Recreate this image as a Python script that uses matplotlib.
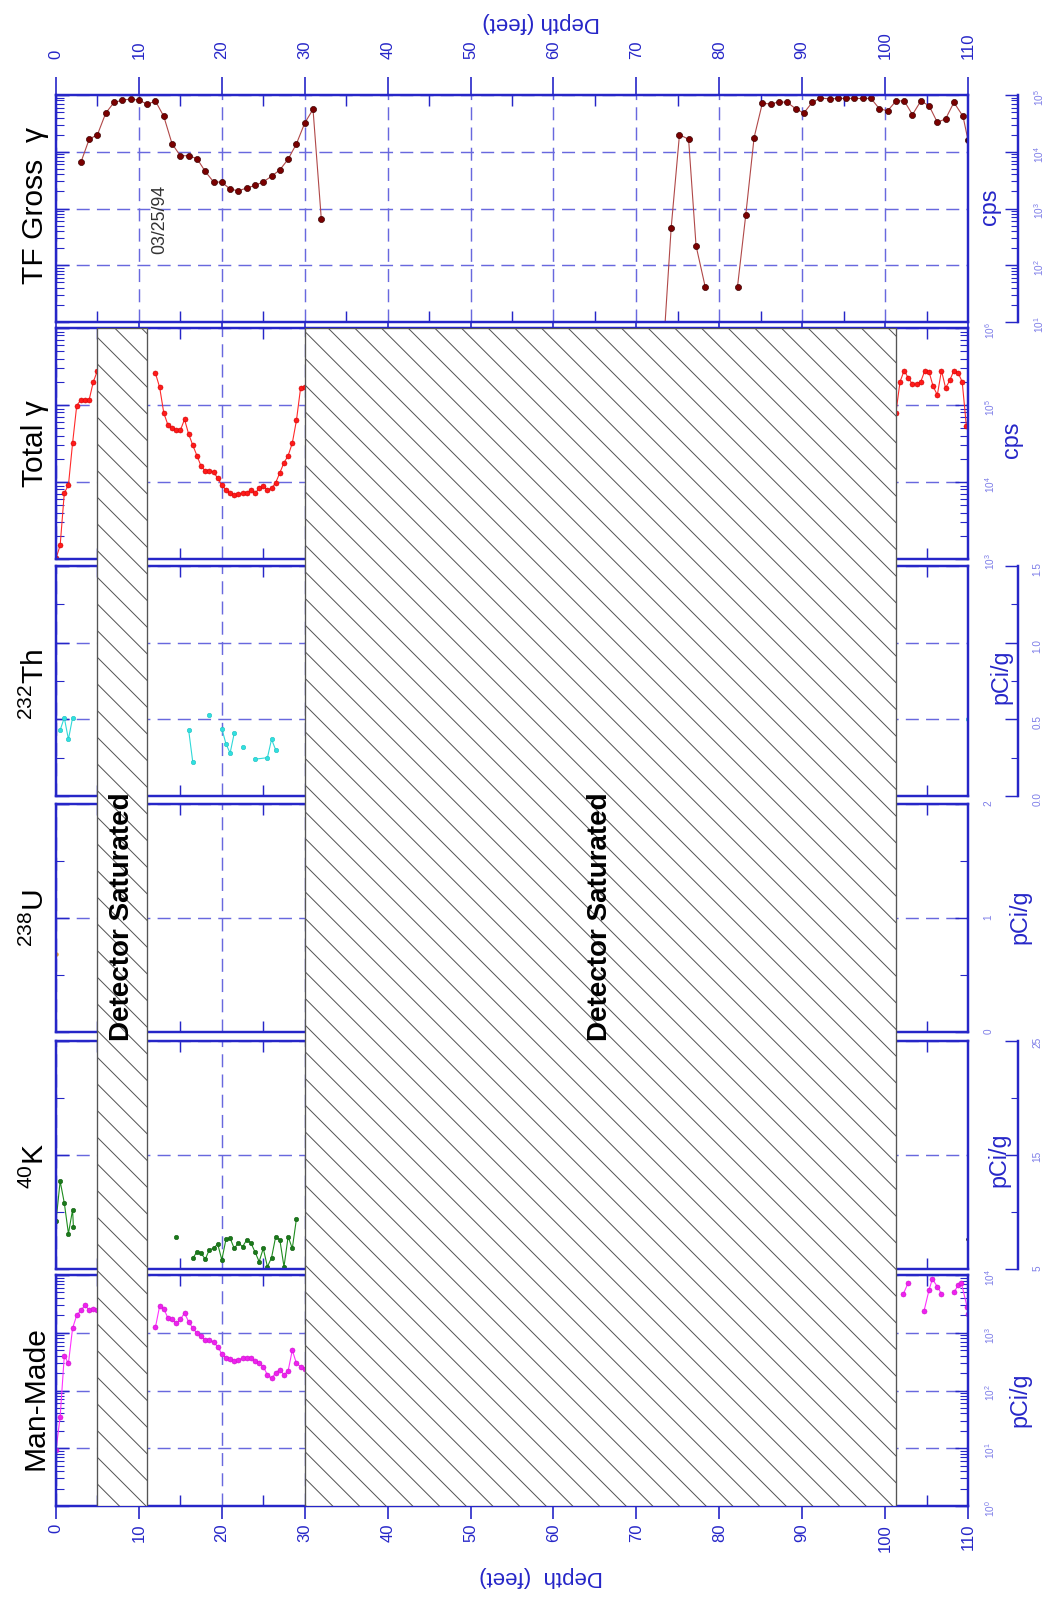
import matplotlib
matplotlib.use('Agg')

import numpy as np
import matplotlib.pyplot as plt
from matplotlib.patches import Rectangle
from matplotlib.ticker import (FixedLocator, LogLocator, NullFormatter,
                               FormatStrFormatter)

nan = np.nan

# ---- data (depth in feet) ----
# TF gross gamma (cps)
tf_depth = [3, 4, 5, 6, 7, 8, 9, 10, 11, 12, 13, 14, 15, 16, 17, 18, 19, 20, 21, 22,
            23, 24, 25, 26, 27, 28, 29, 30, 31, 32, nan,
            73.2, 74.2, 75.2, 76.3, 77.2, 78.3, nan,
            82.2, 83.2, 84.2, 85.2, 86.2, 87.2, 88.2, 89.2, 90.2, 91.2, 92.2, 93.3, 94.3,
            95.3, 96.3, 97.3, 98.3, 99.3, 100.3, 101.3, 102.3, 103.3, 104.3, 105.3, 106.3,
            107.3, 108.3, 109.4, 110.0]
tf_cps = [6500, 16600, 20000, 48000, 74000, 81000, 85000, 81000, 69000, 78000, 42000,
          13800, 8500, 8500, 7600, 4500, 2950, 2900, 2200, 2050, 2300, 2550, 2950, 3700,
          4800, 7400, 13800, 32000, 56000, 650, nan,
          2.4, 460, 20000, 16600, 220, 42, nan,
          42, 780, 17800, 72000, 69000, 76000, 74000, 57500, 48000, 74000, 89000, 85000,
          87000, 87000, 87000, 87000, 87000, 57500, 52500, 78000, 79000, 45000, 78000,
          65000, 33000, 38000, 74000, 42000, 16000]

# Total gamma (cps)
tot_depth = [0, 0.5, 1, 1.5, 2, 2.5, 3, 3.5, 4, 4.5, 5, nan,
             12, 12.5, 13, 13.5, 14, 14.5, 15, 15.5, 16, 16.5, 17, 17.5, 18, 18.5, 19,
             19.5, 20, 20.5, 21, 21.5, 22, 22.5, 23, 23.5, 24, 24.5, 25, 25.5, 26, 26.5,
             27, 27.5, 28, 28.5, 29, 29.5, 30, nan,
             101.3, 101.8, 102.3, 102.8, 103.3, 103.8, 104.3, 104.8, 105.3, 105.8, 106.3,
             106.8, 107.3, 107.8, 108.3, 108.8, 109.3, 109.8]
tot_cps = [1020, 1500, 7200, 9100, 32000, 98000, 117000, 117000, 117000, 200000, 280000, nan,
           257000, 170000, 79000, 55000, 50000, 47000, 47000, 65000, 42000, 30000, 22000,
           16000, 14000, 14000, 13500, 11200, 9100, 7900, 7100, 6800, 6900, 7200, 7200,
           7800, 7100, 8300, 8900, 7900, 8300, 9800, 13200, 17800, 22000, 32000, 63000,
           166000, 170000, nan,
           79000, 200000, 280000, 224000, 186000, 186000, 200000, 280000, 270000, 174000,
           135000, 280000, 166000, 209000, 280000, 263000, 200000, 54000]

# Th-232 (pCi/g)
th_depth = [0.5, 1.0, 1.5, 2.0, nan, 16.0, 16.5, nan, 18.5, nan, 20.0, 20.5, 21.0, 21.5,
            nan, 22.5, nan, 24.0, 25.5, 26.0, 26.5, nan, 110.0]
th_pci = [0.43, 0.51, 0.37, 0.51, nan, 0.43, 0.22, nan, 0.53, nan, 0.44, 0.34, 0.28, 0.41,
          nan, 0.32, nan, 0.24, 0.25, 0.37, 0.30, nan, 0.50]

# U-238 (pCi/g)
u_depth = [0.0]
u_pci = [0.68]

# K-40 (pCi/g)
k_depth = [0, 0.5, 1.0, 1.5, 2.0, 2.1, nan, 14.5, nan,
           16.5, 17, 17.5, 18, 18.5, 19, 19.5, 20, 20.5, 21, 21.5, 22, 22.5, 23, 23.5,
           24, 24.5, 25, 25.5, 26, 26.5, 27, 27.5, 28, 28.5, 29]
k_pci = [9.2, 12.7, 10.8, 8.1, 10.2, 8.7, nan, 7.85, nan,
         5.95, 6.5, 6.4, 5.85, 6.7, 6.8, 7.2, 5.8, 7.6, 7.7, 6.8, 7.3, 6.95, 7.55, 7.3,
         6.5, 5.65, 6.8, 5.2, 6.0, 7.85, 7.55, 5.2, 7.85, 6.8, 9.4]
k_end_depth = [110.0]
k_end_pci = [7.6]

# Man-made (pCi/g)
mm_depth = [0, 0.5, 1, 1.5, 2, 2.5, 3, 3.5, 4, 4.5, 5, nan,
            12, 12.5, 13, 13.5, 14, 14.5, 15, 15.5, 16, 16.5, 17, 17.5, 18, 18.5, 19,
            19.5, 20, 20.5, 21, 21.5, 22, 22.5, 23, 23.5, 24, 24.5, 25, 25.5, 26, 26.5,
            27, 27.5, 28, 28.5, 29, 29.5, 30, nan,
            102.2, 102.8, nan, 104.7, 105.3, 105.7, 106.3, 106.8, nan,
            108.3, 108.8, 109.2, 109.9, 110.0]
mm_pci = [9.3, 35, 400, 295, 1200, 2000, 2450, 3000, 2450, 2600, 2450, nan,
          1260, 2900, 2600, 1800, 1700, 1450, 1700, 2200, 1550, 1200, 980, 870, 740, 740,
          680, 575, 430, 370, 350, 330, 340, 360, 360, 370, 320, 300, 260, 186, 162, 204,
          230, 186, 220, 500, 295, 260, 234, nan,
          4700, 7400, nan, 2400, 5500, 8500, 6300, 4700, nan,
          5000, 6600, 7200, 2800, 2100]

# detector saturated intervals (start, end)
saturated = [(5, 11), (30, 101.3)]

depth_major = [0, 10, 20, 30, 40, 50, 60, 70, 80, 90, 100, 110]
depth_minor = [5, 15, 25, 35, 45, 55, 65, 75, 85, 95, 105]

# ---- layout ----
W, H, DPI = 1063, 1600, 80
plt.rcParams['font.family'] = ['Liberation Sans', 'DejaVu Sans']
plt.rcParams['mathtext.fontset'] = 'custom'
plt.rcParams['mathtext.rm'] = 'Liberation Sans'
plt.rcParams['mathtext.it'] = 'Liberation Sans:italic'
plt.rcParams['hatch.linewidth'] = 0.9

BLUE = '#2626c8'
GRID = '#6868de'
LABEL = '#7c7ce8'
X0, X1 = 56, 968

fig = plt.figure(figsize=(W / DPI, H / DPI), dpi=DPI)


def box(top, bot):
    return [X0 / W, 1 - bot / H, (X1 - X0) / W, (bot - top) / H]


def panel(top, bot, scale, lim, major, minor, right=False):
    ax = fig.add_axes(box(top, bot))
    ax.set_xlim(0, 110)
    ax.set_yscale(scale)
    ax.set_ylim(*lim)
    for s in ax.spines.values():
        s.set_color(BLUE)
        s.set_linewidth(2.2)
    ax.xaxis.set_major_locator(FixedLocator(depth_major))
    ax.xaxis.set_minor_locator(FixedLocator(depth_minor))
    ax.xaxis.set_major_formatter(FormatStrFormatter('%d'))
    ax.tick_params(axis='x', which='major', length=0, labelbottom=False)
    ax.tick_params(axis='x', which='minor', top=True, bottom=True, direction='in',
                   length=10, width=1.3, color=BLUE)
    ax.yaxis.set_major_locator(major)
    ax.yaxis.set_minor_locator(minor)
    ax.yaxis.set_minor_formatter(NullFormatter())
    ax.tick_params(axis='y', which='both', direction='in', left=True, right=right,
                   labelleft=False, labelright=right, color=BLUE, labelcolor=LABEL,
                   labelsize=9, labelrotation=90, pad=14)
    ax.tick_params(axis='y', which='major', length=12, width=1.3)
    ax.tick_params(axis='y', which='minor', length=7, width=1.0)
    ax.grid(True, which='major', axis='both', color=GRID,
            linestyle=(0, (9, 5)), linewidth=1.3)
    return ax


def outer_axis(ax, major, minor, fmt=None):
    tw = ax.twinx()
    tw.set_yscale(ax.get_yscale())
    tw.set_ylim(ax.get_ylim())
    for s in ('top', 'bottom', 'left'):
        tw.spines[s].set_visible(False)
    tw.spines['right'].set_position(('outward', 50 * 72 / DPI))
    tw.spines['right'].set_color(BLUE)
    tw.spines['right'].set_linewidth(2.2)
    tw.yaxis.set_major_locator(major)
    tw.yaxis.set_minor_locator(minor)
    if fmt is not None:
        tw.yaxis.set_major_formatter(fmt)
    tw.yaxis.set_minor_formatter(NullFormatter())
    tw.tick_params(axis='y', which='both', direction='in', color=BLUE, labelcolor=LABEL,
                   labelsize=9, labelrotation=90, pad=13)
    tw.tick_params(axis='y', which='major', length=12, width=1.3)
    tw.tick_params(axis='y', which='minor', length=6, width=1.0)
    return tw


def logloc():
    return LogLocator(base=10), LogLocator(base=10, subs=np.arange(2, 10))


# TF Gross gamma
ax_tf = panel(95, 322, 'log', (10, 1e5), *logloc())
ax_tf.tick_params(axis='x', which='major', top=True, labeltop=True, direction='out',
                  length=16, width=1.5, color=BLUE, labelcolor=BLUE, labelsize=15,
                  labelrotation=90, pad=16)
outer_axis(ax_tf, *logloc())
ax_tf.plot(tf_depth, tf_cps, color='#b04848', lw=1.0, marker='o', ms=5.5,
           mfc='#7a0000', mec='#3a0000', mew=0.6)
ax_tf.plot([110.0], [16000], 'o', color='black', ms=3)

# Total gamma
ax_tot = panel(328, 559, 'log', (1e3, 1e6), *logloc(), right=True)
ax_tot.plot(tot_depth, tot_cps, color='#ff2a2a', lw=1.0, marker='o', ms=4.5,
            mfc='#ff1a1a', mec='#d00000', mew=0.5)

# Th-232
ax_th = panel(566, 796, 'linear', (0, 1.5), FixedLocator([0, 0.5, 1.0, 1.5]),
              FixedLocator([0.25, 0.75, 1.25]))
outer_axis(ax_th, FixedLocator([0, 0.5, 1.0, 1.5]), FixedLocator([0.25, 0.75, 1.25]),
           FormatStrFormatter('%.1f'))
ax_th.plot(th_depth, th_pci, color='#30d8d8', lw=1.0, marker='o', ms=4,
           mfc='#30e0e0', mec='#20c0c0', mew=0.5)

# U-238
ax_u = panel(804, 1032, 'linear', (0, 2), FixedLocator([0, 1, 2]),
             FixedLocator([0.5, 1.5]), right=True)
ax_u.yaxis.set_major_formatter(FormatStrFormatter('%d'))
ax_u.plot(u_depth, u_pci, 'o', color='#e8a030', ms=3)

# K-40
ax_k = panel(1041, 1269, 'linear', (5, 25), FixedLocator([5, 15, 25]),
             FixedLocator([10, 20]))
outer_axis(ax_k, FixedLocator([5, 15, 25]), FixedLocator([10, 20]),
           FormatStrFormatter('%d'))
ax_k.plot(k_depth, k_pci, color='#1e8c1e', lw=1.0, marker='o', ms=4,
          mfc='#1a7a1a', mec='#125f12', mew=0.5)
ax_k.plot(k_end_depth, k_end_pci, 'o', color='black', ms=3)

# Man-made
ax_mm = panel(1275, 1506, 'log', (1, 1e4), *logloc(), right=True)
ax_mm.tick_params(axis='x', which='major', bottom=True, labelbottom=True, direction='out',
                  length=12, width=1.5, color=BLUE, labelcolor=BLUE, labelsize=15,
                  labelrotation=90, pad=4)
ax_mm.plot(mm_depth, mm_pci, color='#ff30ff', lw=1.0, marker='o', ms=4.5,
           mfc='#ee22ee', mec='#cc10cc', mew=0.5)

# detector saturated overlay
hx = fig.add_axes(box(328, 1506))
hx.set_xlim(0, 110)
hx.set_ylim(0, 1)
hx.axis('off')
for start, end in saturated:
    hx.add_patch(Rectangle((start, 0), end - start, 1, facecolor='white',
                           edgecolor='#555555', lw=1.2, hatch='\\'))
    hx.text((start + end) / 2, 0.5, 'Detector Saturated', rotation=90, ha='center',
            va='center', fontsize=25, fontweight='bold', color='black')

# panel titles and units
titles = [('TF Gross  γ', 205), ('Total γ', 444),
          ('$^{232}$Th', 684), ('$^{238}$U', 918), ('$^{40}$K', 1166),
          ('Man-Made', 1398)]
for txt, y in titles:
    fig.text(35 / W, 1 - y / H, txt, rotation=90, ha='center', va='center',
             fontsize=27, color='black')

units = [('cps', 990, 207), ('cps', 1012, 440), ('pCi/g', 1001, 677),
         ('pCi/g', 1020, 917), ('pCi/g', 999, 1160), ('pCi/g', 1020, 1400)]
for txt, x, y in units:
    fig.text(x / W, 1 - y / H, txt, rotation=90, ha='center', va='center',
             fontsize=21, color=BLUE)

fig.text(160 / W, 1 - 219 / H, '03/25/94', rotation=90, ha='center', va='center',
         fontsize=16, color='#333333')
fig.text(541 / W, 1 - 23 / H, 'Depth (feet)', rotation=180, ha='center', va='center',
         fontsize=20, color=BLUE)
fig.text(541 / W, 1 - 1577 / H, 'Depth  (feet)', rotation=180, ha='center', va='center',
         fontsize=20, color=BLUE)

fig.savefig('out.png', dpi=DPI, facecolor='white')
